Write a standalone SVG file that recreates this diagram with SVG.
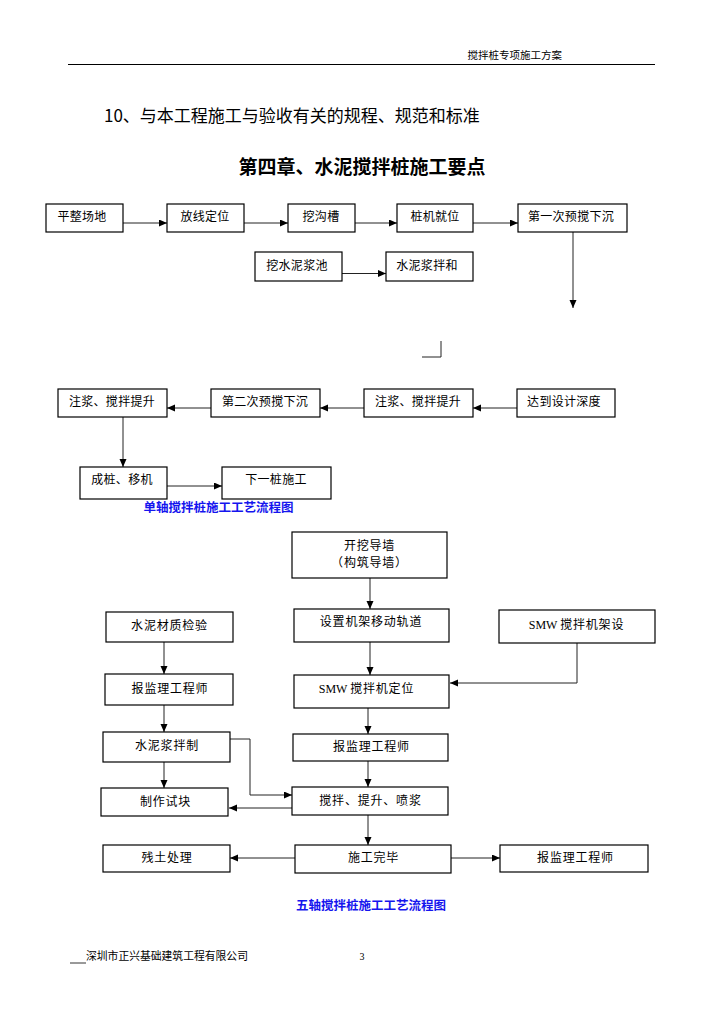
<svg xmlns="http://www.w3.org/2000/svg" width="724" height="1024" viewBox="0 0 724 1024">
<style>
.bx{fill:#fff;stroke:#000;stroke-width:1.2}
.t1{font-family:"Noto Sans CJK SC","Liberation Sans",sans-serif;font-size:12px;letter-spacing:0.3px;fill:#000;text-anchor:middle}
.t2{font-family:"Noto Sans CJK SC","Liberation Sans",sans-serif;font-size:12px;letter-spacing:0.8px;fill:#000;text-anchor:middle}
.lat{font-family:"Liberation Serif",serif;letter-spacing:0}
.cn{fill:none;stroke:#222;stroke-width:1}
.cap{font-family:"Noto Sans CJK SC","Liberation Sans",sans-serif;font-size:12.5px;font-weight:bold;fill:#1515ee;text-anchor:middle}
</style>
<defs>
<marker id="ar" markerUnits="userSpaceOnUse" markerWidth="9" markerHeight="8" refX="8" refY="3.5" orient="auto">
<path d="M0,0 L8,3.5 L0,7 z" fill="#000"/>
</marker>
</defs>
<rect width="724" height="1024" fill="#fff"/>
<g id="header">
<line x1="68" y1="64.5" x2="655" y2="64.5" stroke="#000" stroke-width="1"/>
<text x="562" y="59" font-family="Noto Sans CJK SC,sans-serif" font-size="10.5" text-anchor="end">搅拌桩专项施工方案</text>
</g>
<text id="heading" x="104" y="122" font-family="Noto Sans CJK SC,sans-serif" font-size="17">10、与本工程施工与验收有关的规程、规范和标准</text>
<text id="title" x="362" y="174" font-family="Noto Sans CJK SC,sans-serif" font-size="19" font-weight="bold" text-anchor="middle">第四章、水泥搅拌桩施工要点</text>

<g id="connectors">
<line class="cn" x1="123" y1="223" x2="167" y2="223" marker-end="url(#ar)"/>
<line class="cn" x1="244" y1="223" x2="288" y2="223" marker-end="url(#ar)"/>
<line class="cn" x1="355" y1="223" x2="397" y2="223" marker-end="url(#ar)"/>
<line class="cn" x1="473" y1="223" x2="518" y2="223" marker-end="url(#ar)"/>
<line class="cn" x1="573" y1="232" x2="573" y2="308" marker-end="url(#ar)"/>
<line class="cn" x1="342" y1="273.5" x2="386" y2="273.5" marker-end="url(#ar)"/>
<polyline class="cn" points="422,357 441,357 441,341"/>
<line class="cn" x1="517" y1="408" x2="473" y2="408" marker-end="url(#ar)"/>
<line class="cn" x1="364" y1="408" x2="320" y2="408" marker-end="url(#ar)"/>
<line class="cn" x1="211" y1="408" x2="167" y2="408" marker-end="url(#ar)"/>
<line class="cn" x1="123" y1="417" x2="123" y2="467" marker-end="url(#ar)"/>
<line class="cn" x1="167" y1="486" x2="222" y2="486" marker-end="url(#ar)"/>

<line class="cn" x1="370" y1="578" x2="370" y2="609" marker-end="url(#ar)"/>
<line class="cn" x1="164" y1="642" x2="164" y2="674" marker-end="url(#ar)"/>
<line class="cn" x1="370" y1="642" x2="370" y2="675" marker-end="url(#ar)"/>
<polyline class="cn" points="577,643 577,683 450,683" marker-end="url(#ar)"/>
<line class="cn" x1="164" y1="705" x2="164" y2="732" marker-end="url(#ar)"/>
<line class="cn" x1="368" y1="708" x2="368" y2="734" marker-end="url(#ar)"/>
<line class="cn" x1="164" y1="762" x2="164" y2="788" marker-end="url(#ar)"/>
<polyline class="cn" points="230,739 250,739 250,795 292,795" marker-end="url(#ar)"/>
<line class="cn" x1="368" y1="761" x2="368" y2="787" marker-end="url(#ar)"/>
<line class="cn" x1="292" y1="808" x2="229" y2="808" marker-end="url(#ar)"/>
<line class="cn" x1="368" y1="815" x2="368" y2="845" marker-end="url(#ar)"/>
<line class="cn" x1="295" y1="858" x2="230" y2="858" marker-end="url(#ar)"/>
<line class="cn" x1="451" y1="858" x2="500" y2="858" marker-end="url(#ar)"/>
</g>

<g id="n1"><rect class="bx" x="46" y="204" width="77" height="28"/><text class="t1" x="82" y="221">平整场地</text></g>
<g id="n2"><rect class="bx" x="167" y="204" width="77" height="28"/><text class="t1" x="205" y="221">放线定位</text></g>
<g id="n3"><rect class="bx" x="288" y="204" width="67" height="28"/><text class="t1" x="321" y="221">挖沟槽</text></g>
<g id="n4"><rect class="bx" x="397" y="204" width="76" height="28"/><text class="t1" x="435" y="221">桩机就位</text></g>
<g id="n5"><rect class="bx" x="518" y="204" width="109" height="28"/><text class="t1" x="571" y="221">第一次预搅下沉</text></g>
<g id="n6"><rect class="bx" x="255" y="252" width="87" height="29"/><text class="t1" x="297" y="269.5">挖水泥浆池</text></g>
<g id="n7"><rect class="bx" x="386" y="252" width="87" height="29"/><text class="t1" x="427" y="269.5">水泥浆拌和</text></g>
<g id="n8"><rect class="bx" x="58" y="389" width="109" height="28"/><text class="t1" x="112" y="405.5">注浆、搅拌提升</text></g>
<g id="n9"><rect class="bx" x="211" y="389" width="109" height="28"/><text class="t1" x="265" y="405.5">第二次预搅下沉</text></g>
<g id="n10"><rect class="bx" x="364" y="389" width="109" height="28"/><text class="t1" x="418" y="405.5">注浆、搅拌提升</text></g>
<g id="n11"><rect class="bx" x="517" y="389" width="98" height="28"/><text class="t1" x="564" y="405.5">达到设计深度</text></g>
<g id="n12"><rect class="bx" x="80" y="467" width="87" height="32"/><text class="t1" x="122" y="483.5">成桩、移机</text></g>
<g id="n13"><rect class="bx" x="222" y="467" width="109" height="32"/><text class="t1" x="276" y="483.5">下一桩施工</text></g>
<text id="cap1" class="cap" x="218.5" y="512">单轴搅拌桩施工工艺流程图</text>

<g id="m1"><rect class="bx" x="292" y="532" width="155" height="46"/><text class="t2" x="369.5" y="549.5" font-size="11.5">开挖导墙</text><text class="t2" x="369.5" y="566.8" font-size="11.5">（构筑导墙）</text></g>
<g id="m2"><rect class="bx" x="294" y="609" width="155" height="33"/><text class="t2" x="371" y="626">设置机架移动轨道</text></g>
<g id="m3"><rect class="bx" x="106" y="612" width="127" height="30"/><text class="t2" x="169.5" y="629.5">水泥材质检验</text></g>
<g id="m4"><rect class="bx" x="499" y="610" width="156" height="33"/><text class="t2" x="576.5" y="628.5"><tspan class="lat">SMW </tspan>搅拌机架设</text></g>
<g id="m5"><rect class="bx" x="105" y="674" width="128" height="31"/><text class="t2" x="170" y="692.5">报监理工程师</text></g>
<g id="m6"><rect class="bx" x="294" y="675" width="155" height="33"/><text class="t2" x="366.5" y="692.5"><tspan class="lat">SMW </tspan>搅拌机定位</text></g>
<g id="m7"><rect class="bx" x="103" y="732" width="127" height="30"/><text class="t2" x="167" y="749.5">水泥浆拌制</text></g>
<g id="m8"><rect class="bx" x="293" y="734" width="155" height="27"/><text class="t2" x="371.5" y="751">报监理工程师</text></g>
<g id="m9"><rect class="bx" x="101" y="788" width="127" height="28"/><text class="t2" x="165.5" y="805.5">制作试块</text></g>
<g id="m10"><rect class="bx" x="292" y="787" width="156" height="28"/><text class="t2" x="370.5" y="804.5">搅拌、提升、喷浆</text></g>
<g id="m11"><rect class="bx" x="103" y="845" width="127" height="27"/><text class="t2" x="167" y="862">残土处理</text></g>
<g id="m12"><rect class="bx" x="295" y="845" width="156" height="28"/><text class="t2" x="373.5" y="862">施工完毕</text></g>
<g id="m13"><rect class="bx" x="500" y="845" width="148" height="27"/><text class="t2" x="575.5" y="862">报监理工程师</text></g>
<text id="cap2" class="cap" x="371" y="910">五轴搅拌桩施工工艺流程图</text>

<g id="footer">
<line x1="70" y1="963" x2="86" y2="963" stroke="#000" stroke-width="0.8"/>
<text x="86" y="960" font-family="Noto Sans CJK SC,sans-serif" font-size="10.8">深圳市正兴基础建筑工程有限公司</text>
<text x="362" y="960" font-family="Liberation Serif,serif" font-size="10" text-anchor="middle">3</text>
</g>
</svg>
